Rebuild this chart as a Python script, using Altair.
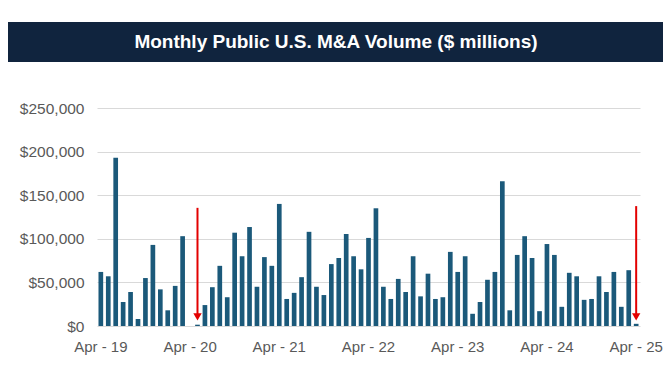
import altair as alt
import pandas as pd

MONTH_NAMES = ["Jan", "Feb", "Mar", "Apr", "May", "Jun",
               "Jul", "Aug", "Sep", "Oct", "Nov", "Dec"]

# Apr-2019 .. Apr-2025 (73 months)
months = []
y, m = 2019, 3
for _ in range(73):
    months.append(f"{MONTH_NAMES[m]} - {str(y)[2:]}")
    m += 1
    if m == 12:
        m, y = 0, y + 1

volume = [
    62000, 57000, 193000, 27500, 39000, 8000, 55000, 93000, 42000, 18000, 46000, 103000,
    0, 1500, 24000, 44500, 69000, 33000, 107000, 80000, 113500, 45000, 79000, 69000,
    140000, 31000, 38000, 56000, 108000, 45000, 35500, 71000, 78000, 105500, 80000, 65000,
    101000, 135000, 45000, 31000, 54000, 39000, 80000, 34000, 60000, 31000, 33000, 85000,
    62000, 80000, 14000, 27500, 53000, 62000, 166000, 18000, 81500, 103000, 78000, 17000,
    94000, 81500, 22000, 61000, 57000, 30000, 31000, 57000, 39000, 62000, 22000, 64000,
    2500,
]

tick_labels = ["Apr - 19", "Apr - 20", "Apr - 21", "Apr - 22", "Apr - 23", "Apr - 24", "Apr - 25"]
y_ticks = [0, 50000, 100000, 150000, 200000, 250000]

arrow_months = ["May - 20", "Apr - 25"]
arrow_top = [135500, 137500]
arrow_bottom = [13000, 13000]
arrow_head = [10500, 10500]

title_text = "Monthly Public U.S. M&A Volume ($ millions)"

FONT = "Liberation Sans, Arial, sans-serif"
BAR = "#1b597a"
NAVY = "#10243e"
GRAY = "#595959"

df = pd.DataFrame({"month": months, "value": volume})
arrows = pd.DataFrame({"month": arrow_months, "top": arrow_top,
                       "bottom": arrow_bottom, "head": arrow_head})

x_enc = alt.X("month:N", sort=months,
              scale=alt.Scale(domain=months, paddingInner=0.37, paddingOuter=0.2),
              axis=alt.Axis(values=tick_labels, title=None, labelAngle=0, ticks=False,
                            domain=False, grid=False, labelFont=FONT, labelFontSize=15,
                            labelColor=GRAY, labelPadding=13))

bars = alt.Chart(df).mark_bar(color=BAR).encode(
    x=x_enc,
    y=alt.Y("value:Q", scale=alt.Scale(domain=[0, 250000], nice=False),
            axis=alt.Axis(values=y_ticks, format="$,.0f", title=None, ticks=False,
                          domain=False, gridColor="#d9d9d9", gridWidth=1,
                          labelFont=FONT, labelFontSize=15.5, labelColor=GRAY,
                          labelPadding=13)),
)

rules = alt.Chart(arrows).mark_rule(color="#e30000", strokeWidth=2).encode(
    x=alt.X("month:N", sort=months),
    y="top:Q",
    y2="bottom:Q",
)

heads = alt.Chart(arrows).mark_point(shape="triangle-down", filled=True, color="#e30000",
                                     size=70, opacity=1).encode(
    x=alt.X("month:N", sort=months),
    y="head:Q",
)

title_df = pd.DataFrame({"t": [title_text]})
title_bg = alt.Chart(title_df).mark_rect(color=NAVY).encode(
    x=alt.value(-89), x2=alt.value(566), y=alt.value(-86), y2=alt.value(-46)
)
title = alt.Chart(title_df).mark_text(color="white", font=FONT, fontSize=19,
                                      fontWeight="bold", align="center",
                                      baseline="middle").encode(
    x=alt.value(239), y=alt.value(-66), text="t:N"
)

chart = alt.layer(bars, rules, heads, title_bg, title).properties(
    width=543, height=218,
    padding={"top": 14, "left": 0, "right": 0, "bottom": 2},
).configure_view(stroke=None)

chart.save("out.html", embed_options={"renderer": "svg", "actions": False})
